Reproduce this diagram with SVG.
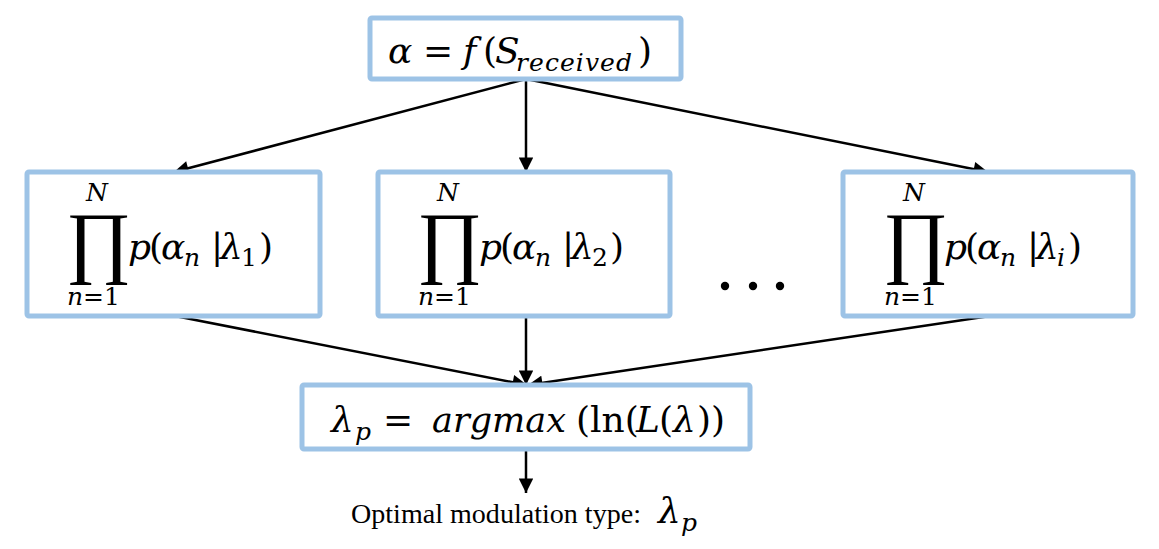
<svg xmlns="http://www.w3.org/2000/svg" width="1159" height="549" viewBox="0 0 1159 549">
<defs>
<style>
.box{fill:#fff;stroke:#9DC3E6;stroke-width:5}
.m{font-family:"DejaVu Serif",serif;font-style:italic;font-size:36px;fill:#000}
.r{font-style:normal}
.s{font-size:25px}
.big{font-family:"Liberation Serif",serif;font-size:80px;fill:#000}
.lbl{font-family:"Liberation Serif",serif;font-size:27px;fill:#000}
.c{stroke:#000;stroke-width:2.5;fill:none}
</style>
<marker id="ah" viewBox="0 0 10 10" refX="10" refY="5" markerWidth="6.4" markerHeight="5.8" markerUnits="strokeWidth" orient="auto">
<path d="M0,0 L10,5 L0,10 Z" fill="#000"/>
</marker>
</defs>
<rect width="1159" height="549" fill="#fff"/>
<g id="connectors">
<line class="c" x1="526" y1="79" x2="174" y2="172" marker-end="url(#ah)"/>
<line class="c" x1="526" y1="79" x2="526" y2="172" marker-end="url(#ah)"/>
<line class="c" x1="526" y1="79" x2="988" y2="172" marker-end="url(#ah)"/>
<line class="c" x1="175" y1="316" x2="527" y2="385" marker-end="url(#ah)"/>
<line class="c" x1="526" y1="316" x2="526" y2="385" marker-end="url(#ah)"/>
<line class="c" x1="990" y1="316" x2="528" y2="385" marker-end="url(#ah)"/>
<line class="c" x1="526" y1="449" x2="526" y2="493" marker-end="url(#ah)"/>
</g>
<g id="top">
<rect class="box" x="370" y="18" width="311" height="61" rx="2"/>
<text class="m" y="63"><tspan x="388">α</tspan><tspan x="423" class="r">=</tspan><tspan x="463">f</tspan><tspan x="483" class="r">(</tspan><tspan x="495">S</tspan><tspan x="516" y="71" class="s" textLength="116" lengthAdjust="spacing">received</tspan><tspan x="638" y="63" class="r">)</tspan></text>
</g>
<g id="p1">
<rect class="box" x="27" y="172" width="293" height="144" rx="2"/>
<text class="big" x="66" y="268">∏</text>
<text class="m s" x="86" y="201">N</text>
<text class="m s" x="67" y="305">n<tspan class="r">=1</tspan></text>
<text class="m" y="259"><tspan x="128">p</tspan><tspan x="149" class="r">(</tspan><tspan x="161">α</tspan><tspan x="184" y="266" class="s">n</tspan><tspan x="211" y="259" class="r">|</tspan><tspan x="220">λ</tspan><tspan x="241" y="266" class="s r">1</tspan><tspan x="259" y="259" class="r">)</tspan></text>
</g>
<g id="p2">
<rect class="box" x="378" y="172" width="292" height="144" rx="2"/>
<text class="big" x="417" y="268">∏</text>
<text class="m s" x="437" y="201">N</text>
<text class="m s" x="418" y="305">n<tspan class="r">=1</tspan></text>
<text class="m" y="259"><tspan x="479">p</tspan><tspan x="500" class="r">(</tspan><tspan x="512">α</tspan><tspan x="535" y="266" class="s">n</tspan><tspan x="562" y="259" class="r">|</tspan><tspan x="571">λ</tspan><tspan x="592" y="266" class="s r">2</tspan><tspan x="610" y="259" class="r">)</tspan></text>
</g>
<g id="dots">
<circle cx="725" cy="286" r="4.2"/>
<circle cx="753" cy="286" r="4.2"/>
<circle cx="780" cy="286" r="4.2"/>
</g>
<g id="pi">
<rect class="box" x="843" y="172" width="290" height="144" rx="2"/>
<text class="big" x="883" y="268">∏</text>
<text class="m s" x="903" y="201">N</text>
<text class="m s" x="884" y="305">n<tspan class="r">=1</tspan></text>
<text class="m" y="259"><tspan x="944">p</tspan><tspan x="965" class="r">(</tspan><tspan x="977">α</tspan><tspan x="1000" y="266" class="s">n</tspan><tspan x="1027" y="259" class="r">|</tspan><tspan x="1036">λ</tspan><tspan x="1057" y="266" class="s">i</tspan><tspan x="1068" y="259" class="r">)</tspan></text>
</g>
<g id="argmax">
<rect class="box" x="302" y="385" width="448" height="64" rx="2"/>
<text class="m" y="432"><tspan x="331">λ</tspan><tspan x="355" y="440" class="s">p</tspan><tspan x="383" y="432" class="r">=</tspan><tspan x="432" textLength="134" lengthAdjust="spacingAndGlyphs">argmax</tspan><tspan x="576" class="r">(ln(</tspan><tspan x="636">L</tspan><tspan x="659" class="r">(</tspan><tspan x="673">λ</tspan><tspan x="697" class="r">))</tspan></text>
</g>
<g id="output">
<text class="lbl" x="351" y="523" textLength="290" lengthAdjust="spacingAndGlyphs">Optimal modulation type:</text>
<text class="m" y="523" font-size="38"><tspan x="658">λ</tspan><tspan x="681" y="531" class="s">p</tspan></text>
</g>
</svg>
